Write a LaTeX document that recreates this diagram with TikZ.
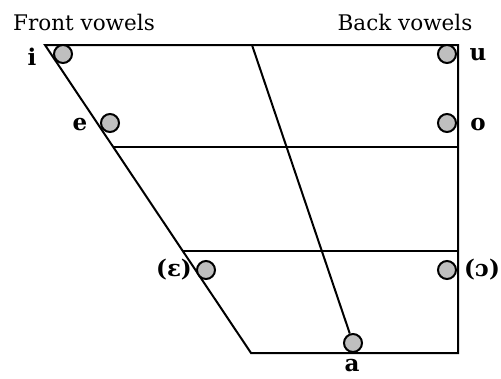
\documentclass[tikz,border=0pt]{standalone}
\usepackage{fontspec}
\setmainfont{DejaVu Serif}
\begin{document}
\begin{tikzpicture}[x=1pt,y=-1pt,
  edge/.style={line width=2pt},
  vowel/.style={circle,draw,line width=2pt,fill=black!25,minimum size=18pt,inner sep=0pt},
  lab/.style={font=\fontsize{23}{23}\selectfont\bfseries},
  head/.style={font=\fontsize{21.5}{21.5}\selectfont}]
\useasboundingbox (0,0) rectangle (501,378);
\coordinate (TL) at (45,45);
\coordinate (TR) at (458,45);
\coordinate (BR) at (458,353);
\coordinate (BL) at (251,353);
\coordinate (M1L) at (113,147);
\coordinate (M1R) at (458,147);
\coordinate (M2L) at (183,251);
\coordinate (M2R) at (458,251);
\coordinate (DT) at (252,45);
\draw[edge] (TL) -- (TR) -- (BR) -- (BL) -- cycle;
\draw[edge] (M1L) -- (M1R);
\draw[edge] (M2L) -- (M2R);
\node[vowel] (vi) at (63,54) {};
\node[vowel] (ve) at (110,123) {};
\node[vowel] (vu) at (447,54) {};
\node[vowel] (vo) at (447,123) {};
\node[vowel] (veps) at (206,270) {};
\node[vowel] (vopen) at (447,270) {};
\node[vowel] (va) at (353,343) {};
\draw[edge] (DT) -- (va);
\node[lab] (li) at (32,57) {i};
\node[lab] (le) at (80,125) {e};
\node[lab] (lu) at (478,55) {u};
\node[lab] (lo) at (478,125) {o};
\node[lab] (leps) at (174,270) {(ɛ)};
\node[lab] (lopen) at (482,270) {(ɔ)};
\node[lab] (la) at (352,366) {a};
\node[head] (hf) at (84,22) {Front vowels};
\node[head] (hb) at (405,22) {Back vowels};
\end{tikzpicture}
\end{document}
